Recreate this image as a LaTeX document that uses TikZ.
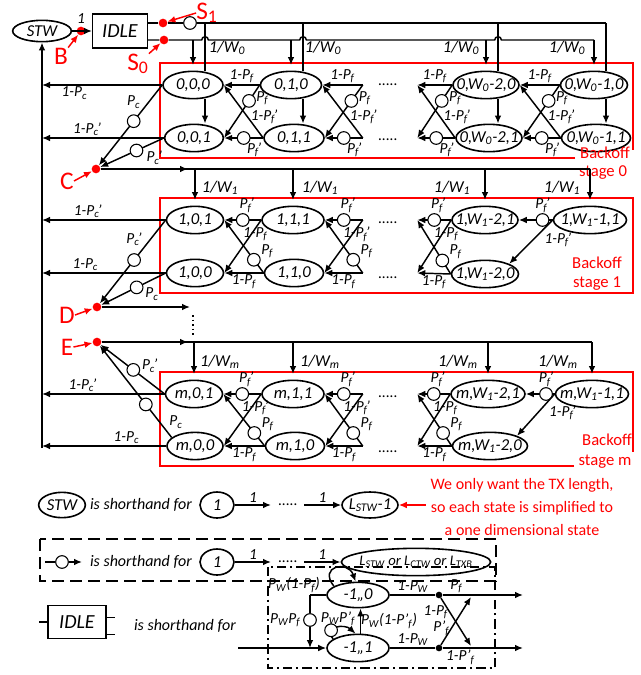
\documentclass[tikz,border=0pt]{standalone}
\usepackage{fontspec}
\setmainfont{Carlito}
\usetikzlibrary{shapes.geometric,arrows.meta,positioning,calc}

\newcommand{\zw}[1]{\makebox[0pt]{#1}}
\newcommand{\Pf}{P\textsubscript{f}}
\newcommand{\Pfp}{P\textsubscript{f}\kern-.1em'}
\newcommand{\Pc}{P\textsubscript{c}}
\newcommand{\Pcp}{P\textsubscript{c}\kern-.1em'}
\newcommand{\PW}{P\textsubscript{W}}
\newcommand{\Ppf}{P'\textsubscript{f}}
\newcommand{\stfont}{\fontsize{12.5}{14}\selectfont\itshape}
\newcommand{\lblfont}{\fontsize{11.5}{13}\selectfont\itshape}

\begin{document}
\begin{tikzpicture}[x=0.75pt, y=-0.75pt, >={Latex[length=6pt,width=5pt]}]
  % styles
  \tikzset{
    st/.style={ellipse, draw, line width=1.2pt, inner sep=0pt, minimum height=20.5pt, minimum width=#1, font=\stfont},
    st/.default=44pt,
    vpt/.style={inner sep=0pt, minimum size=0pt},
    hop/.style={circle, draw, fill=white, line width=0.8pt, inner sep=0pt, minimum size=9.5pt},
    rdot/.style={circle, fill=red, inner sep=0pt, minimum size=6.5pt},
    bdot/.style={circle, fill=black, inner sep=0pt, minimum size=5pt},
    lbl/.style={font=\lblfont, inner sep=1pt},
    wlbl/.style={font=\fontsize{12.5}{14}\selectfont\itshape},
    tr/.style={->, line width=1.1pt},
    ln/.style={line width=1.1pt},
    redlbl/.style={text=red, inner sep=0pt, font=\fontsize{19}{20}\selectfont},
    redarr/.style={->, red, line width=1.1pt},
    stagebox/.style={red, line width=1pt},
    stagelbl/.style={text=red, inner sep=0.5pt, font=\fontsize{12.5}{14}\selectfont},
    shtxt/.style={font=\fontsize{12}{14}\selectfont\itshape}
  }
  \useasboundingbox (0,0) rectangle (640,675);

  % --- Backoff stage frames ---
  \draw[stagebox] (575,158) -- (160,158) -- (160,63) -- (633,63) -- (633,150);
  \draw[stagebox] (160,198) rectangle (633,293);
  \draw[stagebox] (574,466) -- (160,466) -- (160,372) -- (633,372) -- (633,452);

  % --- States, stage 0 ---
  \node[st=45pt] (n000) at (193,85) {\zw{0,0,0}};
  \node[st=45.75pt] (n010) at (291,85) {\zw{0,1,0}};
  \node[st=49.5pt] (n0a0) at (486,85) {\zw{0,W\textsubscript{0}-2,0}};
  \node[st=50.25pt] (n0b0) at (594,85) {\zw{0,W\textsubscript{0}-1,0}};
  \node[st=44pt] (n001) at (194,138) {\zw{0,0,1}};
  \node[st=45pt] (n011) at (294,138) {\zw{0,1,1}};
  \node[st=49.5pt] (n0a1) at (489,138) {\zw{0,W\textsubscript{0}-2,1}};
  \node[st=51.75pt] (n0b1) at (596,138) {\zw{0,W\textsubscript{0}-1,1}};
  \node[vpt] (v0t) at (363,85) {};
  \node[vpt] (v0b) at (363,138) {};
  \node[vpt] (w0t) at (417,85) {};
  \node[vpt] (w0b) at (417,138) {};

  % --- States, stage 1 ---
  \node[st=42.75pt] (n101) at (195,220) {\zw{1,0,1}};
  \node[st=46.5pt] (n111) at (293,220) {\zw{1,1,1}};
  \node[st=49.5pt] (n1a1) at (485,220) {\zw{1,W\textsubscript{1}-2,1}};
  \node[st=54.75pt] (n1b1) at (590,220) {\zw{1,W\textsubscript{1}-1,1}};
  \node[st=42.75pt] (n100) at (195,273) {\zw{1,0,0}};
  \node[st=44.25pt] (n110) at (294,273) {\zw{1,1,0}};
  \node[st=50.25pt] (n1a0) at (485,274) {\zw{1,W\textsubscript{1}-2,0}};
  \node[vpt] (v1t) at (363,220) {};
  \node[vpt] (v1b) at (363,273) {};
  \node[vpt] (w1t) at (417,220) {};
  \node[vpt] (w1b) at (417,273) {};

  % --- States, stage m ---
  \node[st=42.75pt] (nm01) at (194,394) {\zw{m,0,1}};
  \node[st=46.5pt] (nm11) at (293,394) {\zw{m,1,1}};
  \node[st=55.5pt] (nma1) at (488,394) {\zw{m,W\textsubscript{1}-2,1}};
  \node[st=54.75pt] (nmb1) at (592,394) {\zw{m,W\textsubscript{1}-1,1}};
  \node[st=42pt] (nm00) at (195,446) {\zw{m,0,0}};
  \node[st=44.25pt] (nm10) at (295,446) {\zw{m,1,0}};
  \node[st=56.25pt] (nma0) at (490,446) {\zw{m,W\textsubscript{1}-2,0}};
  \node[vpt] (vmt) at (363,394) {};
  \node[vpt] (vmb) at (363,446) {};
  \node[vpt] (wmt) at (417,394) {};
  \node[vpt] (wmb) at (417,446) {};

  % dots between columns
  \foreach \y [count=\i] in {85,140,223,278,397,452}
    \node[lbl] (dd\i) at (388,\y) {.....};

  % --- Stage labels ---
  \node[stagelbl] (bk0) at (605,153) {Backoff};
  \node[stagelbl, fill=white] (sg0) at (603,173) {stage 0};
  \node[stagelbl] (bk1) at (597,263) {Backoff};
  \node[stagelbl] (sg1) at (597,284) {stage 1};
  \node[stagelbl] (bkm) at (607,440) {Backoff};
  \node[stagelbl, fill=white] (sgm) at (605,462) {stage m};

  % --- STW, IDLE and idle outputs ---
  \node[st=44pt, minimum height=16pt] (stw) at (42,31) {\zw{STW}};
  \node[draw, line width=1pt, minimum width=41pt, minimum height=25.5pt, inner sep=0pt,
        font=\fontsize{15}{16}\selectfont\itshape] (idle) at (120,31) {IDLE};
  \node[rdot] (bdot) at (81,31) {};
  \node[lbl, above=1pt of bdot] (one) {1};
  \draw[tr] (stw.east) -- (idle.west);
  \node[rdot] (sone) at (163,23) {};
  \node[rdot] (szero) at (164,40) {};
  \node[hop] (sonehop) at (190,23) {};
  \draw[ln] (idle.east |- sone) -- (sone) -- (sonehop) -- ([xshift=9pt]n0b0.north |- sone);
  \draw[ln] (idle.east |- szero) -- (szero) -- (201.7,40) arc[start angle=180, end angle=0, radius=2.5pt]
    -- (299.7,40) arc[start angle=180, end angle=0, radius=2.5pt]
    -- (494.7,40) arc[start angle=180, end angle=0, radius=2.5pt] -- (n0b0.north |- szero);

  \coordinate (top0) at (0,65);
  \coordinate (top1) at (0,200);
  \coordinate (topm) at (0,374);
  \foreach \n in {n000,n010,n0a0,n0b0}
    \draw[tr] (\n.north |- szero) -- (\n.north |- top0);
  \foreach \n/\b in {n000/n001,n010/n011,n0a0/n0a1,n0b0/n0b1}{
    \draw[ln] ([xshift=9pt]\n.north |- sone) -- ([xshift=9pt]\n.north);
    \draw[tr] ([xshift=9pt]\n.south) -- ([xshift=9pt]\n.south |- \b.north);
  }
  \foreach \x in {227,323,461,567}
    \node[wlbl] (wz\x) at (\x,48) {1/W\textsubscript{0}};

  % --- Stage 0 transitions ---
  \foreach \rt/\rb/\lt/\lb in {n010/n011/n000/n001, v0t/v0b/n010/n011, n0a0/n0a1/w0t/w0b, n0b0/n0b1/n0a0/n0a1}{
    \draw[tr] (\rt.west) -- node[lbl, above] {1-\Pf} (\lt.east);
    \draw[tr] (\rt.west) -- node[hop, pos=0.3] {} node[lbl, pos=0.3, anchor=west, xshift=4pt, yshift=2pt] {\Pf} (\lb.east);
    \draw[tr] (\rb.west) -- node[hop, pos=0.5] {} node[lbl, pos=0.5, anchor=north west, xshift=1pt, yshift=-2pt] {\Pfp} (\lb.east);
    \draw[tr] (\rb.west) -- node[lbl, pos=0.4, anchor=west, xshift=1pt] {1-\Pfp} (\lt.east);
  }

  % --- Stage 1 and stage m transitions ---
  \foreach \rt/\rb/\lt/\lb/\dl in {n111/n110/n101/n100/{1-\Pf}, v1t/v1b/n111/n110/{1-\Pfp}, n1a1/n1a0/w1t/w1b/{1-\Pf},
                                 nm11/nm10/nm01/nm00/{1-\Pfp}, vmt/vmb/nm11/nm10/{1-\Pfp}, nma1/nma0/wmt/wmb/{1-\Pf}}{
    \draw[tr] (\rt.west) -- node[hop, pos=0.5] {} node[lbl, pos=0.5, above=4pt, xshift=3pt] {\Pfp} (\lt.east);
    \draw[tr] (\rt.west) -- node[lbl, pos=0.27, xshift=3pt] {\dl} (\lb.east);
    \draw[tr] (\rb.west) -- node[hop, pos=0.25] {} node[lbl, pos=0.25, anchor=south west, xshift=4pt] {\Pf} (\lt.east);
    \draw[tr] (\rb.west) -- node[lbl, below] {1-\Pf} (\lb.east);
  }
  \foreach \r/\lt/\lb in {n1b1/n1a1/n1a0, nmb1/nma1/nma0}{
    \draw[tr] (\r.west) -- node[hop, pos=0.3] {} node[lbl, pos=0.3, above=4pt] {\Pfp} (\lt.east);
    \draw[tr] (\r.west) -- node[lbl, pos=0.45, anchor=west, xshift=7pt] {1-\Pfp} (\lb.north east);
  }

  % --- Return rail to STW ---
  \coordinate (rail) at (42,448);
  \draw[tr] (rail) -- (stw.south);
  \draw[tr] (n000.west) -- node[lbl, pos=0.73, below] {1-\Pc} (n000.west -| rail);
  \draw[tr] (n001.west) -- node[lbl, pos=0.63, above] {1-\Pcp} (n001.west -| rail);
  \draw[tr] (n101.west) -- node[lbl, pos=0.63, above] {1-\Pcp} (n101.west -| rail);
  \draw[tr] (n100.west) -- node[lbl, pos=0.65, above] {1-\Pc} (n100.west -| rail);
  \draw[tr] (nm01.west) -- node[lbl, pos=0.67, above] {1-\Pcp} (nm01.west -| rail);
  \draw[tr] (nm00.west) -- node[lbl, pos=0.32, above] {1-\Pc} (nm00.west -| rail);

  % --- Collision joins C, D, E ---
  \node[rdot] (cdot) at (96,169) {};
  \node[rdot] (ddot) at (97,307) {};
  \node[rdot] (edot) at (97,342) {};
  \draw[tr] (n000.west) -- node[hop, pos=0.45] {} node[lbl, pos=0.45, above=8pt] {\Pc} (cdot);
  \draw[tr] (n001.west) -- node[hop, pos=0.43] {} node[lbl, pos=0.43, anchor=north west, xshift=6pt, yshift=1pt] {\Pcp} (cdot);
  \draw[tr] (n101.west) -- node[hop, pos=0.48] {} node[lbl, pos=0.48, above=9pt] {\Pcp} (ddot);
  \draw[tr] (n100.west) -- node[hop, pos=0.45] {} node[lbl, pos=0.45, anchor=north west, xshift=5pt, yshift=1pt] {\Pc} (ddot);
  \draw[tr] (nm01.west) -- node[hop, pos=0.49] {} node[lbl, pos=0.49, anchor=west, xshift=5pt, yshift=3pt] {\Pcp} (edot);
  \draw[tr] (nm00.160) -- node[hop, pos=0.36] {} node[lbl, pos=0.08, anchor=south west, xshift=1pt] {\Pc} (edot);

  \draw[ln] (cdot) -- (n1b1.north |- cdot);
  \draw[tr] (cdot) -- (188,169);
  \foreach \n in {n101,n111,n1a1,n1b1}
    \draw[tr] (\n.north |- cdot) -- (\n.north |- top1);
  \foreach \x in {220,320,452,562}
    \node[wlbl] (wo\x) at (\x,188) {1/W\textsubscript{1}};
  \draw[tr] (ddot) -- (190,307);
  \draw[line width=1.2pt, dash pattern=on 1.2pt off 2.2pt] (193,315) -- (193,335);
  \draw[ln] (edot) -- (nmb1.north |- edot);
  \draw[tr] (edot) -- (188,342);
  \foreach \n in {nm01,nm11,nma1,nmb1}
    \draw[tr] (\n.north |- edot) -- (\n.north |- topm);
  \foreach \x in {220,320,458,558}
    \node[wlbl] (wm\x) at (\x,362) {1/W\textsubscript{m}};

  % --- Red markers ---
  \node[redlbl] (blbl) at (61,56) {B};
  \draw[redarr] (blbl.north east) -- (bdot);
  \node[redlbl] (s1lbl) at (207,13) {S\textsubscript{1}};
  \draw[redarr] (s1lbl.west) -- (sone);
  \node[redlbl] (s0lbl) at (138,64) {S\textsubscript{0}};
  \draw[redarr] (s0lbl.north east) -- (szero);
  \node[redlbl] (clbl) at (67,181) {C};
  \draw[redarr] (clbl.east) -- (cdot);
  \node[redlbl] (dlbl) at (67,315) {D};
  \draw[redarr] (dlbl.east) -- (ddot);
  \node[redlbl] (elbl) at (67,347) {E};
  \draw[redarr] (elbl.east) -- (edot);

  % --- Shorthand: STW ---
  \node[st=35pt, minimum height=19pt] (shS) at (62,505) {\zw{STW}};
  \node[shtxt] (shT1) at (141,505) {is shorthand for};
  \node[st=25.5pt, minimum height=19.5pt] (shA) at (217,505) {\zw{1}};
  \coordinate (shB) at (271,505);
  \draw[tr] (shA) -- node[lbl, above] {1} (shB);
  \node[lbl] (shD) at (288,505) {.....};
  \coordinate (shC) at (304,505);
  \node[st=42pt, minimum height=19.5pt] (shL) at (370,505) {\zw{L\textsubscript{STW}-1}};
  \draw[tr] (shC) -- node[lbl, above] {1} (shL);
  \node[text=red, align=center, font=\fontsize{12}{17}\selectfont] (note) at (522,507)
    {We only want the TX length,\\so each state is simplified to\\a one dimensional state};
  \draw[redarr] (note.west |- shL) -- (shL);

  % --- Shorthand: circle on a connector ---
  \draw[line width=1.1pt, dash pattern=on 9pt off 4.5pt] (40,539) rectangle (496,581);
  \coordinate (icA) at (45,562);
  \node[hop] (icH) at (62,562) {};
  \coordinate (icB) at (82,562);
  \draw[ln] (icA) -- (icH);
  \draw[tr] (icH) -- (icB);
  \node[shtxt] (shT2) at (141,562) {is shorthand for};
  \node[st=25.5pt, minimum height=19.5pt] (ciA) at (217,562) {\zw{1}};
  \coordinate (ciB) at (271,562);
  \draw[tr] (ciA) -- node[lbl, above] {1} (ciB);
  \node[lbl] (ciD) at (288,562) {.....};
  \coordinate (ciC) at (304,562);
  \node[st=112pt, minimum height=20.5pt, font=\fontsize{11}{13}\selectfont\itshape] (ciL) at (416,562)
    {\zw{L\textsubscript{STW} or L\textsubscript{CTW} or L\textsubscript{TXB}}};
  \draw[tr] (ciC) -- node[lbl, above] {1} (ciL);

  % --- Shorthand: IDLE ---
  \node[draw, line width=1pt, minimum width=43.5pt, minimum height=25pt, inner sep=0pt,
        font=\fontsize{15}{16}\selectfont\itshape] (idl) at (77,622) {IDLE};
  \draw[ln] (idl.west) -- ++(-8,0);
  \draw[ln] ([yshift=3.5pt]idl.east) -- ++(8,0);
  \draw[ln] ([yshift=-9.5pt]idl.east) -- ++(8,0);
  \node[shtxt] (shT3) at (185,626) {is shorthand for};
  \draw[line width=0.9pt, dash pattern=on 7pt off 3pt on 1.5pt off 3pt] (268,567) rectangle (495,668);

  \node[st=46.5pt, minimum height=19pt] (m10) at (358,595) {\zw{-1,,0}};
  \node[st=46.5pt, minimum height=20.5pt] (m11) at (358,648) {\zw{-1,,1}};
  \coordinate (jx) at (439,0);
  \coordinate (ox) at (523,0);
  \node[bdot] (jt) at (m10.east -| jx) {};
  \node[bdot] (jb) at (m11.east -| jx) {};
  \coordinate (idin) at (238,648);
  \draw[tr] (idin) -- (m11);
  \draw[ln] (m10) -- node[lbl, above] {1-\PW} (jt);
  \draw[ln] (m11) -- node[lbl, above] {1-\PW} (jb);
  \draw[tr] (jt) -- node[lbl, pos=0.17, above] {\Pf} (jt -| ox);
  \draw[tr] (jb) -- node[lbl, pos=0.22, below] {1-\Ppf} (jb -| ox);
  \draw[tr] (jt) -- node[lbl, pos=0.3, left] {1-\Pf} ($(jb)+(32,-2)$);
  \draw[tr] (jb) -- node[lbl, pos=0.35, left] {\Ppf} ($(jt)+(32,2)$);
  \draw[tr] (m10.160) .. controls (318,566) and (348,560) .. (m10.100);
  \node[lbl] (lp0) at (294,585) {\PW(1-\Pf)};
  \coordinate (fbx) at (310,0);
  \draw[ln] (m10.west) -- (m10.west -| fbx);
  \node[hop] (fbh) at (310,620) {};
  \draw[ln] (m10.west -| fbx) -- (fbh);
  \draw[tr] (fbh) -- (fbh |- idin);
  \node[lbl, left=1pt of fbh] (lp1) {\PW\Pf};
  \draw[tr] (m11.160) .. controls (322,626) and (345,624) .. node[hop, pos=0.3] (lh) {} (m11.100);
  \node[lbl] (lp2) at (338,619) {\PW\Ppf};
  \draw[tr] (m11.80) -- (m11.80 |- m10.south);
  \node[lbl] (lp3) at (389,621) {\PW(1-\Ppf)};
\end{tikzpicture}
\end{document}
